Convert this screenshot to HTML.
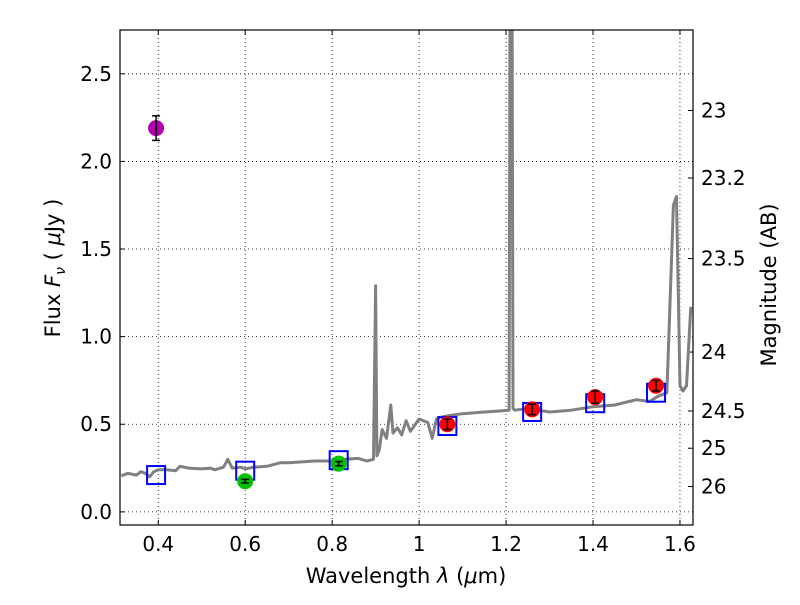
<!DOCTYPE html>
<html><head><meta charset="utf-8"><style>
body{margin:0;background:#fff;}
svg{font-family:"DejaVu Sans","Liberation Sans",sans-serif;}
</style></head><body>
<svg id="c" width="800" height="600"></svg>
<script>
const specX=[0.315,0.33,0.35,0.36,0.37,0.38,0.39,0.40,0.42,0.44,0.45,0.47,0.50,0.52,0.53,0.55,0.56,0.57,0.59,0.60,0.62,0.65,0.68,0.70,0.73,0.76,0.80,0.83,0.86,0.88,0.895,0.900,0.903,0.908,0.915,0.925,0.935,0.94,0.95,0.96,0.97,0.98,1.00,1.02,1.03,1.04,1.05,1.07,1.10,1.15,1.18,1.207,1.209,1.214,1.216,1.22,1.25,1.30,1.35,1.40,1.45,1.50,1.53,1.55,1.57,1.585,1.592,1.60,1.607,1.615,1.625];
const specY=[0.205,0.22,0.21,0.23,0.22,0.20,0.23,0.24,0.24,0.235,0.26,0.25,0.245,0.25,0.24,0.255,0.30,0.25,0.255,0.245,0.255,0.26,0.28,0.28,0.285,0.29,0.29,0.30,0.305,0.29,0.30,1.29,0.32,0.35,0.47,0.42,0.61,0.45,0.48,0.44,0.52,0.46,0.53,0.51,0.42,0.53,0.54,0.55,0.56,0.57,0.575,0.58,2.9,2.9,0.59,0.58,0.59,0.57,0.58,0.60,0.61,0.64,0.63,0.66,0.68,1.75,1.80,0.72,0.69,0.72,1.17];
const photX=[0.395,0.60,0.815,1.065,1.26,1.405,1.545];
const photY=[2.19,0.175,0.275,0.50,0.585,0.655,0.72];
const photErr=[0.07,0.01,0.012,0.03,0.03,0.035,0.03];
const photColor=['#b000b0','#00c000','#00c000','#ff0000','#ff0000','#ff0000','#ff0000'];
const modelY=[0.21,0.235,0.295,0.49,0.57,0.62,0.68];
const xTicks=[0.4,0.6,0.8,1.0,1.2,1.4,1.6];
const xTickLabels=['0.4','0.6','0.8','1','1.2','1.4','1.6'];
const yTicks=[0,0.5,1.0,1.5,2.0,2.5];
const yTickLabels=['0.0','0.5','1.0','1.5','2.0','2.5'];
const magTicks=[23,23.2,23.5,24,24.5,25,26];
const magLabels=['23','23.2','23.5','24','24.5','25','26'];

const L=120,R=693,T=30,B=525,x0=0.312,x1=1.630,y0=-0.075,y1=2.75;
const sx=v=>L+(v-x0)/(x1-x0)*(R-L);
const sy=v=>B-(v-y0)/(y1-y0)*(B-T);
const NS='http://www.w3.org/2000/svg';
const svg=document.getElementById('c');
function mk(t,a,p){const e=document.createElementNS(NS,t);for(const k in a)e.setAttribute(k,a[k]);(p||svg).appendChild(e);return e;}
const defs=mk('defs',{});const cp=mk('clipPath',{id:'cp'},defs);mk('rect',{x:L,y:T,width:R-L,height:B-T},cp);

xTicks.forEach((v,i)=>{const x=sx(v);
 let g=mk('line',{x1:x,x2:x,y1:T,y2:B,stroke:'#000','stroke-dasharray':'1,3','stroke-width':0.8});
 
 mk('line',{x1:x,x2:x,y1:B,y2:B-5,stroke:'#000'});mk('line',{x1:x,x2:x,y1:T,y2:T+5,stroke:'#000'});
 let t=mk('text',{x:x,y:551,'font-size':20,'text-anchor':'middle'});t.textContent=xTickLabels[i];
 });
yTicks.forEach((v,i)=>{const y=sy(v);
 let g=mk('line',{x1:L,x2:R,y1:y,y2:y,stroke:'#000','stroke-dasharray':'1,3','stroke-width':0.8});
 
 mk('line',{x1:L,x2:L+5,y1:y,y2:y,stroke:'#000'});
 let t=mk('text',{x:112,y:y+7,'font-size':20,'text-anchor':'end'});t.textContent=yTickLabels[i];
 });
magTicks.forEach((m,i)=>{const y=sy(Math.pow(10,(23.9-m)/2.5));
 mk('line',{x1:R,x2:R-5,y1:y,y2:y,stroke:'#000'});
 let t=mk('text',{x:701,y:y+7,'font-size':20});t.textContent=magLabels[i];
 });

let d=specX.map((v,i)=>(i?'L':'M')+sx(v).toFixed(1)+','+sy(specY[i]).toFixed(1)).join('');
let sp=mk('path',{d:d,fill:'none',stroke:'#808080','stroke-width':3,'clip-path':'url(#cp)','stroke-linejoin':'round'});


photX.forEach((v,i)=>{const x=sx(v);
 let s=mk('rect',{x:x-9,y:sy(modelY[i])-9,width:18,height:18,fill:'none',stroke:'#0000ff','stroke-width':2});
 
 const y=sy(photY[i]);
 let c=mk('circle',{cx:x,cy:y,r:8,fill:photColor[i]});
 
 const ya=sy(photY[i]+photErr[i]),yb=sy(photY[i]-photErr[i]);
 mk('line',{x1:x,x2:x,y1:ya,y2:yb,stroke:'#000','stroke-width':1.5});
 mk('line',{x1:x-4,x2:x+4,y1:ya,y2:ya,stroke:'#000','stroke-width':1.5});
 mk('line',{x1:x-4,x2:x+4,y1:yb,y2:yb,stroke:'#000','stroke-width':1.5});});

let fr=mk('rect',{x:L,y:T,width:R-L,height:B-T,fill:'none',stroke:'#000','stroke-width':1.2});

let xl=mk('text',{x:406,y:583,'font-size':21,'text-anchor':'middle','xml:space':'preserve'});
xl.innerHTML='Wavelength  <tspan font-style="italic">λ</tspan> (<tspan font-style="italic">μ</tspan>m)';

let yl=mk('text',{x:0,y:0,'font-size':21,'text-anchor':'middle',transform:'translate(60,268) rotate(-90)','xml:space':'preserve'});
yl.innerHTML='Flux  <tspan font-style="italic">F</tspan><tspan font-style="italic" font-size="14" dy="5">ν</tspan><tspan dy="-5">  (  </tspan><tspan font-style="italic">μ</tspan>Jy )';

let ml=mk('text',{x:0,y:0,'font-size':21,'text-anchor':'middle',transform:'translate(776,285) rotate(-90)'});
ml.textContent='Magnitude (AB)';

</script>
</body></html>
